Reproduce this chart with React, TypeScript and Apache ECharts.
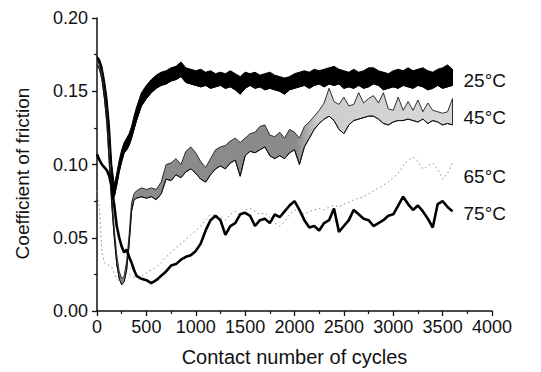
import React, { useEffect, useRef } from "react";
import * as echarts from "echarts";

const cycles = [
  0, 25, 50, 75, 100, 125, 150, 175, 200, 225, 250, 275, 300, 325, 350, 375, 400,
  450, 500, 550, 600, 650, 700, 750, 800, 850, 900, 950, 1000, 1050, 1100, 1150,
  1200, 1250, 1300, 1350, 1400, 1450, 1500, 1550, 1600, 1650, 1700, 1750, 1800,
  1850, 1900, 1950, 2000, 2050, 2100, 2150, 2200, 2250, 2300, 2350, 2400, 2450,
  2500, 2550, 2600, 2650, 2700, 2750, 2800, 2850, 2900, 2950, 3000, 3050, 3100,
  3150, 3200, 3250, 3300, 3350, 3400, 3450, 3500, 3550, 3600,
];

const low25 = [
  0.168, 0.166, 0.16, 0.15, 0.138, 0.118, 0.09, 0.078, 0.086, 0.095, 0.102, 0.108, 0.11, 0.113, 0.118, 0.124, 0.13,
  0.14, 0.145, 0.149, 0.152, 0.154, 0.155, 0.157, 0.158, 0.16, 0.156, 0.155, 0.154, 0.153, 0.154, 0.152,
  0.153, 0.154, 0.152, 0.153, 0.151, 0.148, 0.152, 0.154, 0.152, 0.153, 0.151, 0.152, 0.151,
  0.15, 0.148, 0.151, 0.152, 0.153, 0.154, 0.152, 0.154, 0.155, 0.153, 0.155, 0.154, 0.155,
  0.152, 0.153, 0.152, 0.154, 0.152, 0.153, 0.155, 0.154, 0.151, 0.152, 0.153, 0.152, 0.154,
  0.153, 0.152, 0.154, 0.153, 0.151, 0.152, 0.154, 0.152, 0.153, 0.154,
];
const high25 = [
  0.174, 0.172, 0.167, 0.158, 0.146, 0.128, 0.1, 0.086, 0.094, 0.103, 0.11, 0.115, 0.118, 0.121, 0.126, 0.133, 0.139,
  0.149, 0.154, 0.158, 0.161, 0.163, 0.164, 0.166, 0.167, 0.17, 0.166, 0.165, 0.164, 0.165, 0.163, 0.164,
  0.162, 0.163, 0.162, 0.164, 0.162, 0.16, 0.163, 0.162, 0.163, 0.161, 0.162, 0.163, 0.161,
  0.16, 0.159, 0.16, 0.162, 0.163, 0.164, 0.163, 0.165, 0.164, 0.165, 0.166, 0.167, 0.165,
  0.164, 0.163, 0.165, 0.163, 0.164, 0.166, 0.166, 0.164, 0.163, 0.162, 0.164, 0.165, 0.164,
  0.166, 0.164, 0.165, 0.166, 0.164, 0.163, 0.165, 0.166, 0.168, 0.165,
];

const low45 = [
  0.168, 0.165, 0.158, 0.145, 0.128, 0.1, 0.072, 0.05, 0.032, 0.022, 0.018, 0.02, 0.028, 0.045, 0.068, 0.076, 0.077,
  0.078, 0.077, 0.078, 0.076, 0.08, 0.09, 0.089, 0.093, 0.091, 0.095, 0.097, 0.094, 0.09, 0.088, 0.093,
  0.097, 0.099, 0.097, 0.101, 0.103, 0.092, 0.106, 0.109, 0.108, 0.11, 0.112, 0.106, 0.104,
  0.106, 0.104, 0.108, 0.11, 0.1, 0.112, 0.118, 0.124, 0.128, 0.131, 0.133, 0.13, 0.124,
  0.121, 0.127, 0.13, 0.131, 0.132, 0.133, 0.133, 0.131, 0.128, 0.127, 0.129, 0.13, 0.13,
  0.131, 0.13, 0.129, 0.131, 0.128, 0.13, 0.129, 0.127, 0.128, 0.127,
];
const high45 = [
  0.172, 0.168, 0.162, 0.15, 0.133, 0.106, 0.078, 0.056, 0.038, 0.027, 0.022, 0.024, 0.034, 0.052, 0.074, 0.08, 0.082,
  0.084, 0.083, 0.084, 0.083, 0.088, 0.1, 0.101, 0.104, 0.1, 0.109, 0.112, 0.108, 0.102, 0.098, 0.104,
  0.11, 0.112, 0.113, 0.116, 0.118, 0.115, 0.118, 0.121, 0.122, 0.126, 0.127, 0.12, 0.119,
  0.122, 0.118, 0.124, 0.122, 0.118, 0.126, 0.129, 0.133, 0.137, 0.142, 0.152, 0.143, 0.141,
  0.146, 0.14, 0.141, 0.149, 0.142, 0.145, 0.147, 0.142, 0.149, 0.138, 0.137, 0.146, 0.137,
  0.143, 0.137, 0.144, 0.136, 0.142, 0.137, 0.136, 0.135, 0.136, 0.145,
];

const cof65 = [
  0.082, 0.07, 0.04, 0.033, 0.032, 0.031, 0.03, 0.026, 0.022, 0.02, 0.021, 0.024, 0.026, 0.025, 0.024, 0.023, 0.023,
  0.024, 0.026, 0.028, 0.03, 0.033, 0.037, 0.04, 0.043, 0.046, 0.049, 0.052, 0.055, 0.058, 0.062, 0.066,
  0.065, 0.064, 0.062, 0.066, 0.068, 0.066, 0.069, 0.07, 0.068, 0.066, 0.067, 0.064, 0.06,
  0.058, 0.061, 0.066, 0.069, 0.068, 0.066, 0.068, 0.069, 0.07, 0.069, 0.071, 0.072, 0.071,
  0.073, 0.074, 0.076, 0.077, 0.078, 0.08, 0.082, 0.084, 0.086, 0.088, 0.091, 0.094, 0.099,
  0.103, 0.105, 0.102, 0.097, 0.099, 0.101, 0.097, 0.09, 0.094, 0.101,
];

const cof75 = [
  0.107, 0.103, 0.1, 0.098, 0.096, 0.092, 0.084, 0.072, 0.058, 0.05, 0.044, 0.04, 0.042, 0.037, 0.033, 0.028, 0.024,
  0.022, 0.021, 0.019, 0.021, 0.024, 0.027, 0.031, 0.032, 0.035, 0.037, 0.038, 0.041, 0.046, 0.055, 0.062,
  0.065, 0.062, 0.052, 0.058, 0.06, 0.066, 0.067, 0.065, 0.058, 0.062, 0.063, 0.06, 0.066,
  0.064, 0.068, 0.072, 0.075, 0.069, 0.062, 0.057, 0.058, 0.055, 0.06, 0.062, 0.07, 0.054,
  0.058, 0.062, 0.069, 0.066, 0.063, 0.062, 0.058, 0.06, 0.062, 0.065, 0.066, 0.072, 0.078,
  0.073, 0.069, 0.072, 0.068, 0.063, 0.057, 0.073, 0.075, 0.071, 0.068,
];

const xTicks = { min: 0, max: 4000, interval: 500 };
const yTicks = { min: 0, max: 0.2, interval: 0.05 };
const seriesLabels = ["25°C", "45°C", "65°C", "75°C"];

const FONT = "'Liberation Sans', Arial, sans-serif";

function bandSeries(lo: number[], hi: number[], style: any, z: number) {
  return {
    type: "custom",
    z,
    clip: true,
    silent: true,
    encode: { x: 0, y: [1, 2] },
    data: cycles.map((x, i) => [x, lo[i], hi[i]]),
    renderItem: (params: any, api: any) => {
      if (params.dataIndex !== 0) return null;
      const pts: number[][] = [];
      for (let i = 0; i < cycles.length; i++) pts.push(api.coord([cycles[i], lo[i]]));
      for (let i = cycles.length - 1; i >= 0; i--) pts.push(api.coord([cycles[i], hi[i]]));
      return { type: "polygon", shape: { points: pts }, style };
    },
  };
}

export default function App() {
  const ref = useRef<HTMLDivElement>(null);
  useEffect(() => {
    document.body.style.margin = "0";
    const chart = echarts.init(ref.current!, null, { renderer: "svg" });
    const pairs = (ys: number[]) => cycles.map((x, i) => [x, ys[i]]);
    const endLbl = (text: string, dy: number) => ({
      show: true,
      formatter: text,
      distance: 11,
      offset: [0, dy],
      color: "#111",
      fontSize: 19,
      fontFamily: FONT,
    });
    chart.setOption({
      animation: false,
      backgroundColor: "#fff",
      grid: { left: 97, right: 49, top: 18, bottom: 61, containLabel: false },
      xAxis: {
        type: "value",
        min: xTicks.min,
        max: xTicks.max,
        interval: xTicks.interval,
        name: "Contact number of cycles",
        nameLocation: "middle",
        nameGap: 36,
        nameTextStyle: { color: "#111", fontSize: 20, fontFamily: FONT },
        axisLine: { show: true, onZero: false, lineStyle: { color: "#111", width: 1.5 } },
        axisTick: { show: true, length: 5, lineStyle: { color: "#111", width: 1.3 } },
        minorTick: { show: true, splitNumber: 2, length: 3, lineStyle: { color: "#111", width: 1.2 } },
        axisLabel: {
          color: "#111",
          fontSize: 18,
          fontFamily: FONT,
          margin: 7,
          formatter: (v: number) => String(v),
        },
        splitLine: { show: false },
      },
      yAxis: {
        type: "value",
        min: yTicks.min,
        max: yTicks.max,
        interval: yTicks.interval,
        name: "Coefficient of friction",
        nameLocation: "middle",
        nameGap: 65,
        nameTextStyle: { color: "#111", fontSize: 19, fontFamily: FONT, padding: [0, 18, 0, 0] },
        axisLine: { show: true, lineStyle: { color: "#111", width: 1.5 } },
        axisTick: { show: true, length: 5, lineStyle: { color: "#111", width: 1.3 } },
        minorTick: { show: true, splitNumber: 2, length: 3, lineStyle: { color: "#111", width: 1.2 } },
        axisLabel: {
          color: "#111",
          fontSize: 18,
          fontFamily: FONT,
          margin: 9,
          formatter: (v: number) => v.toFixed(2),
        },
        splitLine: { show: false },
      },
      series: [
        bandSeries(low25, high25, { fill: "#000", stroke: "#000", lineWidth: 1 }, 2),
        {
          type: "line",
          data: pairs(low25),
          symbol: "none",
          silent: true,
          lineStyle: { color: "#000", width: 1 },
          endLabel: endLbl(seriesLabels[0], -5),
          z: 2,
        },
        bandSeries(
          low45,
          high45,
          {
            fill: new echarts.graphic.LinearGradient(0, 0, 1, 0, [
              { offset: 0, color: "#8c8c8c" },
              { offset: 0.56, color: "#8a8a8a" },
              { offset: 0.62, color: "#cdcdcd" },
              { offset: 1, color: "#d8d8d8" },
            ]),
            stroke: "#1a1a1a",
            lineWidth: 0.9,
          },
          3
        ),
        {
          type: "line",
          data: pairs(low45),
          symbol: "none",
          silent: true,
          lineStyle: { color: "#111", width: 1 },
          endLabel: endLbl(seriesLabels[1], -7),
          z: 3,
        },
        {
          type: "line",
          data: pairs(cof65),
          symbol: "none",
          silent: true,
          lineStyle: { color: "#888", width: 1, type: [1.5, 3] },
          endLabel: endLbl(seriesLabels[2], 13),
          z: 4,
        },
        {
          type: "line",
          data: pairs(cof75),
          symbol: "none",
          silent: true,
          lineStyle: { color: "#000", width: 2.6 },
          endLabel: endLbl(seriesLabels[3], 2),
          z: 5,
        },
      ],
    });
    return () => chart.dispose();
  }, []);
  return <div ref={ref} style={{ width: 541, height: 372 }} />;
}
